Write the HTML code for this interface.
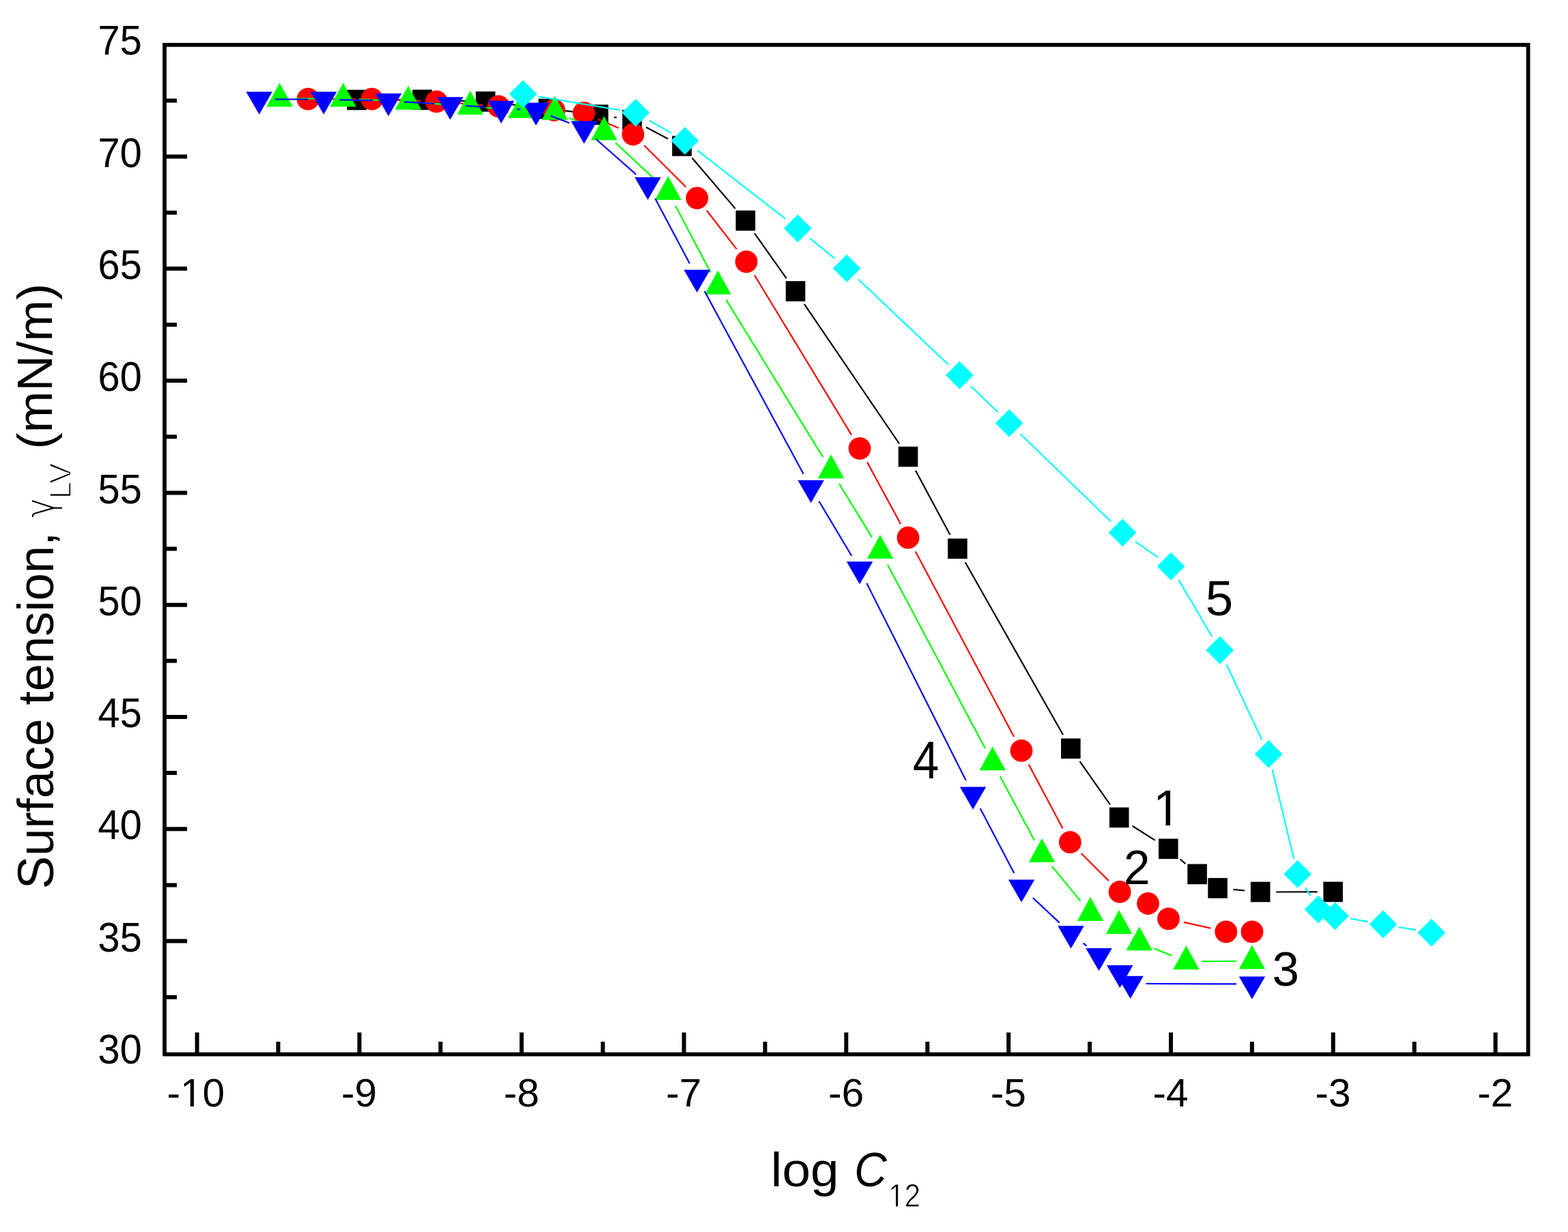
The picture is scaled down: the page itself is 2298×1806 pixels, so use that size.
<!DOCTYPE html>
<html><head><meta charset="utf-8"><title>Surface tension vs log C12</title>
<style>html,body{margin:0;padding:0;background:#fff;overflow:hidden}svg{display:block}</style>
</head><body>
<svg width="2298" height="1806" viewBox="0 0 2298 1806"><rect width="2298" height="1806" fill="#fff"/><path d="M545.8 146.5L595.7 146.3M641.7 146.9L688.6 148.3M734.4 151.5L780.7 156.9M826.3 162.2L854.4 165.5M899.9 171.8L903.7 172.4M946.8 186.6L979.0 203.4M1014.3 231.5L1077.7 305.9M1105.9 342.2L1152.6 408.1M1178.8 445.9L1318.0 650.5M1341.8 689.8L1392.4 784.0M1414.6 824.3L1558.0 1077.3M1582.5 1116.1L1627.0 1179.6M1659.6 1210.8L1692.9 1231.9M1729.6 1259.5L1737.3 1266.2M1807.5 1303.9L1824.3 1305.5M1870.2 1307.5L1930.7 1307.4" stroke="#000000" stroke-width="2.2" fill="none"/><g fill="#000000"><rect x="508.5" y="131.7" width="28.6" height="29.6"/><rect x="604.4" y="131.5" width="28.6" height="29.6"/><rect x="697.3" y="134.1" width="28.6" height="29.6"/><rect x="789.2" y="144.7" width="28.6" height="29.6"/><rect x="862.9" y="153.4" width="28.6" height="29.6"/><rect x="912.1" y="161.2" width="28.6" height="29.6"/><rect x="985.1" y="199.2" width="28.6" height="29.6"/><rect x="1078.3" y="308.6" width="28.6" height="29.6"/><rect x="1151.6" y="412.1" width="28.6" height="29.6"/><rect x="1316.6" y="654.7" width="28.6" height="29.6"/><rect x="1389.0" y="789.5" width="28.6" height="29.6"/><rect x="1555.0" y="1082.5" width="28.6" height="29.6"/><rect x="1625.9" y="1183.6" width="28.6" height="29.6"/><rect x="1698.0" y="1229.5" width="28.6" height="29.6"/><rect x="1740.3" y="1266.6" width="28.6" height="29.6"/><rect x="1770.3" y="1287.1" width="28.6" height="29.6"/><rect x="1832.9" y="1292.7" width="28.6" height="29.6"/><rect x="1939.4" y="1292.6" width="28.6" height="29.6"/></g><path d="M474.4 145.2L522.0 145.2M568.0 146.1L616.6 147.9M662.5 150.6L707.7 154.0M753.5 157.4L789.1 159.9M876.8 174.7L906.7 187.8M944.1 213.2L1005.3 274.1M1035.7 308.5L1079.7 365.4M1105.7 403.3L1248.0 637.6M1270.9 677.5L1319.9 768.0M1341.7 808.5L1486.1 1080.1M1507.7 1120.7L1557.5 1214.4M1584.6 1251.0L1624.8 1291.1M1734.9 1351.9L1774.4 1360.8" stroke="#ff0000" stroke-width="2.2" fill="none"/><g fill="#ff0000"><circle cx="451.4" cy="145.2" r="16.4"/><circle cx="545.0" cy="145.2" r="16.4"/><circle cx="639.6" cy="148.8" r="16.4"/><circle cx="730.6" cy="155.8" r="16.4"/><circle cx="812.0" cy="161.5" r="16.4"/><circle cx="855.7" cy="165.5" r="16.4"/><circle cx="927.8" cy="197.0" r="16.4"/><circle cx="1021.6" cy="290.3" r="16.4"/><circle cx="1093.8" cy="383.6" r="16.4"/><circle cx="1259.9" cy="657.3" r="16.4"/><circle cx="1330.9" cy="788.2" r="16.4"/><circle cx="1496.9" cy="1100.4" r="16.4"/><circle cx="1568.3" cy="1234.7" r="16.4"/><circle cx="1641.1" cy="1307.4" r="16.4"/><circle cx="1682.5" cy="1324.5" r="16.4"/><circle cx="1712.5" cy="1346.8" r="16.4"/><circle cx="1796.8" cy="1365.9" r="16.4"/><circle cx="1835.0" cy="1365.9" r="16.4"/></g><path d="M432.8 144.7L479.9 144.7M525.9 145.7L575.3 148.0M621.2 150.8L666.4 154.4M712.2 157.8L740.8 159.8M786.7 162.6L790.1 162.8M834.4 172.7L864.1 185.0M902.2 209.4L962.5 265.7M990.0 301.7L1041.5 399.5M1064.2 439.4L1205.9 669.9M1229.9 709.1L1277.9 787.6M1300.7 827.5L1443.9 1097.3M1465.6 1137.9L1516.1 1231.9M1541.6 1269.9L1583.4 1320.6M1619.0 1347.7L1619.0 1347.8M1691.0 1390.3L1717.1 1400.8M1761.4 1409.4L1812.0 1409.0" stroke="#00ff00" stroke-width="2.2" fill="none"/><g fill="#00ff00"><path d="M409.8 121.4L429.1 156.4L390.6 156.4Z"/><path d="M502.9 121.4L522.1 156.4L483.6 156.4Z"/><path d="M598.3 125.7L617.5 160.7L579.0 160.7Z"/><path d="M689.3 132.9L708.5 167.9L670.0 167.9Z"/><path d="M763.7 138.1L783.0 173.1L744.5 173.1Z"/><path d="M813.1 140.7L832.4 175.7L793.9 175.7Z"/><path d="M885.4 170.4L904.6 205.4L866.1 205.4Z"/><path d="M979.3 258.1L998.5 293.1L960.0 293.1Z"/><path d="M1052.2 396.5L1071.5 431.5L1033.0 431.5Z"/><path d="M1217.9 666.2L1237.2 701.2L1198.7 701.2Z"/><path d="M1289.9 783.9L1309.2 818.9L1270.7 818.9Z"/><path d="M1454.7 1094.3L1474.0 1129.3L1435.5 1129.3Z"/><path d="M1527.0 1228.9L1546.2 1263.9L1507.8 1263.9Z"/><path d="M1598.0 1315.0L1617.2 1350.0L1578.8 1350.0Z"/><path d="M1640.0 1333.9L1659.2 1368.9L1620.8 1368.9Z"/><path d="M1669.7 1358.3L1689.0 1393.3L1650.5 1393.3Z"/><path d="M1738.4 1386.2L1757.7 1421.2L1719.2 1421.2Z"/><path d="M1835.0 1385.6L1854.2 1420.6L1815.8 1420.6Z"/></g><path d="M402.9 145.5L451.4 145.6M497.4 146.2L546.3 147.4M592.3 149.3L636.7 152.0M682.6 155.0L711.6 157.1M757.5 160.1L762.5 160.4M807.0 169.9L834.5 180.3M873.3 203.7L932.1 255.6M960.2 291.1L1010.7 386.3M1032.5 426.8L1177.5 694.8M1200.3 734.7L1248.1 814.7M1270.2 854.9L1415.6 1144.0M1436.6 1184.9L1486.3 1280.1M1513.8 1316.2L1552.7 1352.6M1587.5 1382.7L1592.5 1386.7M1679.6 1442.0L1812.0 1442.4" stroke="#0000ff" stroke-width="2.2" fill="none"/><g fill="#0000ff"><path d="M379.9 167.7L399.1 134.4L360.6 134.4Z"/><path d="M474.4 167.8L493.6 134.5L455.1 134.5Z"/><path d="M569.3 170.2L588.5 136.9L550.0 136.9Z"/><path d="M659.7 175.5L679.0 142.2L640.5 142.2Z"/><path d="M734.5 181.0L753.8 147.7L715.2 147.7Z"/><path d="M785.5 183.9L804.8 150.6L766.2 150.6Z"/><path d="M856.0 210.7L875.2 177.4L836.8 177.4Z"/><path d="M949.4 293.0L968.6 259.7L930.1 259.7Z"/><path d="M1021.5 428.8L1040.8 395.5L1002.2 395.5Z"/><path d="M1188.5 737.2L1207.8 703.9L1169.2 703.9Z"/><path d="M1259.9 856.6L1279.2 823.3L1240.7 823.3Z"/><path d="M1425.9 1186.7L1445.2 1153.4L1406.7 1153.4Z"/><path d="M1497.0 1322.7L1516.2 1289.4L1477.8 1289.4Z"/><path d="M1569.5 1390.5L1588.8 1357.2L1550.2 1357.2Z"/><path d="M1610.5 1423.3L1629.8 1390.0L1591.2 1390.0Z"/><path d="M1641.3 1448.2L1660.5 1414.9L1622.0 1414.9Z"/><path d="M1656.6 1464.1L1675.8 1430.8L1637.3 1430.8Z"/><path d="M1835.0 1464.7L1854.2 1431.4L1815.8 1431.4Z"/></g><path d="M789.3 141.6L908.9 161.5M951.6 176.7L983.8 194.9M1022.0 220.4L1151.0 320.7M1187.0 349.3L1223.2 378.9M1257.7 409.2L1389.6 534.2M1422.8 566.0L1462.5 604.3M1495.5 636.3L1628.5 764.8M1663.9 793.9L1697.1 817.1M1727.6 850.1L1776.2 933.3M1797.6 974.0L1849.4 1084.6M1864.6 1127.8L1896.3 1258.9M1913.3 1301.1L1920.5 1313.3M1979.2 1346.7L2004.4 1351.1M2049.8 1358.9L2075.2 1363.4" stroke="#00ffff" stroke-width="2.2" fill="none"/><g fill="#00ffff"><path d="M766.6 117.4L787.0 137.8L766.6 158.2L746.2 137.8Z"/><path d="M931.6 144.9L952.0 165.3L931.6 185.7L911.2 165.3Z"/><path d="M1003.8 185.9L1024.2 206.3L1003.8 226.7L983.4 206.3Z"/><path d="M1169.2 314.4L1189.6 334.8L1169.2 355.2L1148.8 334.8Z"/><path d="M1241.0 373.0L1261.4 393.4L1241.0 413.8L1220.6 393.4Z"/><path d="M1406.3 529.6L1426.7 550.0L1406.3 570.4L1385.9 550.0Z"/><path d="M1479.0 599.9L1499.4 620.3L1479.0 640.7L1458.6 620.3Z"/><path d="M1645.0 760.4L1665.4 780.8L1645.0 801.2L1624.6 780.8Z"/><path d="M1716.0 809.8L1736.4 830.2L1716.0 850.6L1695.6 830.2Z"/><path d="M1787.8 932.8L1808.2 953.2L1787.8 973.6L1767.4 953.2Z"/><path d="M1859.2 1085.0L1879.6 1105.4L1859.2 1125.8L1838.8 1105.4Z"/><path d="M1901.7 1260.9L1922.1 1281.3L1901.7 1301.7L1881.3 1281.3Z"/><path d="M1932.1 1312.7L1952.5 1333.1L1932.1 1353.5L1911.7 1333.1Z"/><path d="M1956.5 1322.4L1976.9 1342.8L1956.5 1363.2L1936.1 1342.8Z"/><path d="M2027.1 1334.6L2047.5 1355.0L2027.1 1375.4L2006.7 1355.0Z"/><path d="M2097.9 1346.9L2118.3 1367.3L2097.9 1387.7L2077.5 1367.3Z"/></g><rect x="241.2" y="65.8" width="1998.4" height="1479.7" fill="none" stroke="#000" stroke-width="5.8"/><path d="M288.8 1545.5V1513.5M526.7 1545.5V1513.5M764.5 1545.5V1513.5M1002.4 1545.5V1513.5M1240.2 1545.5V1513.5M1478.1 1545.5V1513.5M1716.0 1545.5V1513.5M1953.8 1545.5V1513.5M2191.7 1545.5V1513.5M407.7 1545.5V1527.0M645.6 1545.5V1527.0M883.5 1545.5V1527.0M1121.3 1545.5V1527.0M1359.2 1545.5V1527.0M1597.0 1545.5V1527.0M1834.9 1545.5V1527.0M2072.8 1545.5V1527.0M241.2 1379.5H274.2M241.2 1215.2H274.2M241.2 1050.9H274.2M241.2 886.7H274.2M241.2 722.4H274.2M241.2 558.1H274.2M241.2 393.8H274.2M241.2 229.5H274.2M241.2 1461.7H259.2M241.2 1297.4H259.2M241.2 1133.1H259.2M241.2 968.8H259.2M241.2 804.5H259.2M241.2 640.2H259.2M241.2 475.9H259.2M241.2 311.7H259.2M241.2 147.4H259.2" stroke="#000" stroke-width="6" fill="none"/><defs><clipPath id="c1_0" clipPathUnits="userSpaceOnUse"><path d="M-3000 -3000H3000V3000H-3000ZM-22.18 -5.13H-8.01V4H-22.18ZM-2.89 -5.13H10.83V4H-2.89Z" clip-rule="evenodd"/></clipPath><clipPath id="c1_1" clipPathUnits="userSpaceOnUse"><path d="M-3000 -3000H3000V3000H-3000ZM-0.57 -4.16H11.72V4H-0.57ZM14.89 -4.16H26.83V4H14.89Z" clip-rule="evenodd"/></clipPath><clipPath id="c1_2" clipPathUnits="userSpaceOnUse"><path d="M-3000 -3000H3000V3000H-3000ZM1.48 -6.18H18.11V4H1.48ZM24.47 -6.18H40.53V4H24.47Z" clip-rule="evenodd"/></clipPath></defs><g font-family="'Liberation Sans', Arial, Helvetica, sans-serif" fill="#000"><text transform="translate(208.00,1559.01) scale(0.9984,1.0575)" font-size="58" text-anchor="end">30</text><text transform="translate(208.00,1394.72) scale(0.9984,1.0575)" font-size="58" text-anchor="end">35</text><text transform="translate(208.00,1230.44) scale(0.9984,1.0575)" font-size="58" text-anchor="end">40</text><text transform="translate(208.00,1066.15) scale(0.9984,1.0575)" font-size="58" text-anchor="end">45</text><text transform="translate(208.00,901.87) scale(0.9984,1.0575)" font-size="58" text-anchor="end">50</text><text transform="translate(208.00,737.58) scale(0.9984,1.0575)" font-size="58" text-anchor="end">55</text><text transform="translate(208.00,573.30) scale(0.9984,1.0575)" font-size="58" text-anchor="end">60</text><text transform="translate(208.00,409.01) scale(0.9984,1.0575)" font-size="58" text-anchor="end">65</text><text transform="translate(208.00,244.73) scale(0.9984,1.0575)" font-size="58" text-anchor="end">70</text><text transform="translate(208.00,80.44) scale(0.9984,1.0575)" font-size="58" text-anchor="end">75</text><text transform="translate(287.00,1621.69) scale(1.0105,0.9903)" font-size="58" text-anchor="middle" clip-path="url(#c1_0)">-10</text><text transform="translate(526.36,1621.69) scale(1.0105,0.9903)" font-size="58" text-anchor="middle">-9</text><text transform="translate(764.22,1621.69) scale(1.0105,0.9903)" font-size="58" text-anchor="middle">-8</text><text transform="translate(1002.08,1621.69) scale(1.0105,0.9903)" font-size="58" text-anchor="middle">-7</text><text transform="translate(1239.94,1621.69) scale(1.0105,0.9903)" font-size="58" text-anchor="middle">-6</text><text transform="translate(1477.80,1621.69) scale(1.0105,0.9903)" font-size="58" text-anchor="middle">-5</text><text transform="translate(1715.66,1621.69) scale(1.0105,0.9903)" font-size="58" text-anchor="middle">-4</text><text transform="translate(1953.52,1621.69) scale(1.0105,0.9903)" font-size="58" text-anchor="middle">-3</text><text transform="translate(2191.38,1621.69) scale(1.0105,0.9903)" font-size="58" text-anchor="middle">-2</text><text transform="translate(1129.51,1739.49) scale(1.0403,0.9673)" font-size="72">log</text><text transform="translate(1251.92,1738.79) scale(0.9171,0.9867)" font-size="72" font-style="italic">C</text><text transform="translate(1302.01,1768.83) scale(0.9382,1.0495)" font-size="45" stroke="#fff" stroke-width="0.8" clip-path="url(#c1_1)">12</text><text transform="translate(77.70,1303.17) rotate(-90) scale(0.9658,1.0000)" font-size="75">Surface tension,</text><text transform="translate(78.85,758.72) rotate(-90) scale(0.7978,0.9678)" font-size="60" font-family="'DejaVu Sans', sans-serif" font-weight="200">γ</text><text transform="translate(104.13,731.56) rotate(-90) scale(1.0501,1.0175)" font-size="44" stroke="#fff" stroke-width="1.6">LV</text><text transform="translate(76.14,658.46) rotate(-90) scale(0.9725,0.9641)" font-size="75">(mN/m)</text><text transform="translate(1689.92,1209.79) scale(1.0242,1.0242)" font-size="72" clip-path="url(#c1_2)">1</text><text transform="translate(1646.77,1296.41) scale(0.9691,0.9691)" font-size="72">2</text><text transform="translate(1864.48,1445.08) scale(0.9852,0.9852)" font-size="72">3</text><text transform="translate(1337.77,1141.49) scale(0.9639,1.0865)" font-size="72">4</text><text transform="translate(1766.75,901.99) scale(1.0101,1.0101)" font-size="72">5</text></g></svg>
</body></html>
